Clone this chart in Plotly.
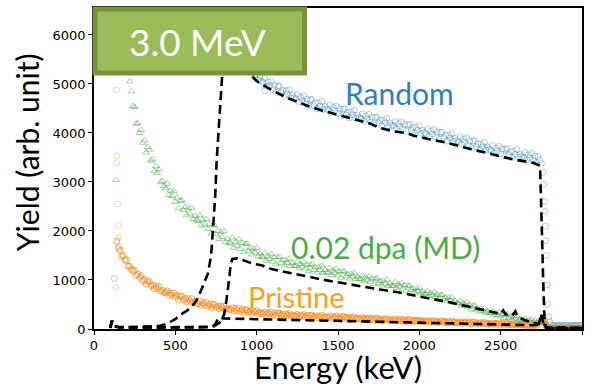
import plotly.graph_objects as go

# ---- detector channel grid, 10 keV per channel ----
energy_kev = [
    140, 150, 160, 170, 180, 190, 200, 210, 220, 230,
    240, 250, 260, 270, 280, 290, 300, 310, 320, 330,
    340, 350, 360, 370, 380, 390, 400, 410, 420, 430,
    440, 450, 460, 470, 480, 490, 500, 510, 520, 530,
    540, 550, 560, 570, 580, 590, 600, 610, 620, 630,
    640, 650, 660, 670, 680, 690, 700, 710, 720, 730,
    740, 750, 760, 770, 780, 790, 800, 810, 820, 830,
    840, 850, 860, 870, 880, 890, 900, 910, 920, 930,
    940, 950, 960, 970, 980, 990, 1000, 1010, 1020, 1030,
    1040, 1050, 1060, 1070, 1080, 1090, 1100, 1110, 1120, 1130,
    1140, 1150, 1160, 1170, 1180, 1190, 1200, 1210, 1220, 1230,
    1240, 1250, 1260, 1270, 1280, 1290, 1300, 1310, 1320, 1330,
    1340, 1350, 1360, 1370, 1380, 1390, 1400, 1410, 1420, 1430,
    1440, 1450, 1460, 1470, 1480, 1490, 1500, 1510, 1520, 1530,
    1540, 1550, 1560, 1570, 1580, 1590, 1600, 1610, 1620, 1630,
    1640, 1650, 1660, 1670, 1680, 1690, 1700, 1710, 1720, 1730,
    1740, 1750, 1760, 1770, 1780, 1790, 1800, 1810, 1820, 1830,
    1840, 1850, 1860, 1870, 1880, 1890, 1900, 1910, 1920, 1930,
    1940, 1950, 1960, 1970, 1980, 1990, 2000, 2010, 2020, 2030,
    2040, 2050, 2060, 2070, 2080, 2090, 2100, 2110, 2120, 2130,
    2140, 2150, 2160, 2170, 2180, 2190, 2200, 2210, 2220, 2230,
    2240, 2250, 2260, 2270, 2280, 2290, 2300, 2310, 2320, 2330,
    2340, 2350, 2360, 2370, 2380, 2390, 2400, 2410, 2420, 2430,
    2440, 2450, 2460, 2470, 2480, 2490, 2500, 2510, 2520, 2530,
    2540, 2550, 2560, 2570, 2580, 2590, 2600, 2610, 2620, 2630,
    2640, 2650, 2660, 2670, 2680, 2690, 2700, 2710, 2720, 2730,
    2740, 2750, 2760, 2770, 2780, 2790, 2800, 2810, 2820, 2830,
    2840, 2850, 2860, 2870, 2880, 2890, 2900, 2910, 2920, 2930,
    2940, 2950, 2960, 2970, 2980, 2990, 3000,
]

# ---- measured spectra (counts per channel) ----
_ = None
random_yield = [
    _, _, _, _, _, _, _, _, _, _,
    _, _, _, _, _, _, _, _, _, _,
    _, _, _, _, _, _, _, _, _, _,
    _, _, _, _, _, _, _, _, _, _,
    _, _, _, _, _, _, _, _, _, _,
    _, _, _, _, _, _, _, _, _, _,
    _, _, _, _, _, _, _, _, _, _,
    _, _, _, _, _, _, _, _, _, _,
    _, _, _, _, 5230, 5140, 5190, 5090, 5150, 5060,
    5030, 5110, 4950, 5040, 4970, 5050, 4890, 4974, 4828, 4952,
    4956, 4820, 4874, 4748, 4862, 4796, 4880, 4717, 4774, 4721,
    4698, 4785, 4632, 4729, 4666, 4753, 4600, 4689, 4548, 4677,
    4686, 4555, 4614, 4493, 4612, 4551, 4640, 4481, 4542, 4493,
    4474, 4565, 4416, 4517, 4458, 4549, 4400, 4491, 4352, 4483,
    4494, 4365, 4426, 4307, 4428, 4369, 4460, 4302, 4364, 4316,
    4298, 4390, 4242, 4344, 4286, 4378, 4230, 4322, 4184, 4316,
    4328, 4200, 4262, 4144, 4266, 4208, 4300, 4143, 4206, 4159,
    4142, 4235, 4088, 4191, 4134, 4227, 4080, 4172, 4034, 4166,
    4178, 4050, 4112, 3994, 4116, 4058, 4150, 3992, 4054, 4006,
    3988, 4080, 3932, 4034, 3976, 4068, 3920, 4012, 3874, 4006,
    4018, 3890, 3952, 3834, 3956, 3898, 3990, 3831, 3892, 3843,
    3824, 3915, 3766, 3867, 3808, 3899, 3750, 3841, 3702, 3833,
    3844, 3715, 3776, 3657, 3778, 3719, 3810, 3652, 3714, 3666,
    3648, 3740, 3592, 3694, 3636, 3728, 3580, 3673, 3536, 3669,
    3682, 3555, 3618, 3501, 3624, 3567, 3660, 3503, 3566, 3519,
    3502, 3595, 3448, 3551, 3494, 3587, 3440, 3530, 3390, 3520,
    3450, 3380, 3200, 2600, 1500, 500, 150, 90, 75, 70,
    72, 68, 75, 70, 66, 73, 69, 71, 67, 72,
    70, 74, 68, 71, 69, 73, 70,
]

dpa_yield = [
    _, _, _, _, _, _, _, _, 5050, 4850,
    4550, 4530, 4190, 4200, 4000, 4060, 3800, 3850, 3600, 3715,
    3660, 3435, 3460, 3230, 3320, 3180, 3260, 2995, 3020, 2915,
    2870, 2965, 2730, 2825, 2710, 2810, 2590, 2680, 2460, 2620,
    2620, 2430, 2490, 2320, 2460, 2355, 2470, 2245, 2310, 2228,
    2205, 2322, 2110, 2225, 2130, 2245, 2040, 2148, 1945, 2113,
    2120, 1935, 2000, 1835, 1980, 1875, 1990, 1770, 1840, 1762,
    1745, 1868, 1660, 1785, 1700, 1828, 1635, 1755, 1565, 1742,
    1740, 1594, 1649, 1520, 1638, 1559, 1656, 1481, 1538, 1475,
    1460, 1557, 1390, 1492, 1426, 1528, 1374, 1470, 1319, 1464,
    1470, 1350, 1406, 1298, 1407, 1344, 1434, 1287, 1342, 1293,
    1285, 1376, 1235, 1326, 1271, 1363, 1231, 1315, 1181, 1307,
    1322, 1203, 1259, 1155, 1267, 1204, 1296, 1149, 1205, 1157,
    1150, 1241, 1102, 1193, 1137, 1229, 1096, 1180, 1046, 1172,
    1176, 1074, 1121, 1030, 1126, 1071, 1148, 1021, 1068, 1025,
    1018, 1095, 974, 1051, 1002, 1078, 963, 1034, 918, 1025,
    1035, 932, 978, 888, 984, 929, 1007, 880, 928, 886,
    880, 958, 838, 915, 867, 944, 828, 897, 780, 885,
    884, 795, 830, 751, 827, 778, 838, 729, 765, 725,
    716, 777, 672, 733, 689, 749, 650, 706, 607, 692,
    698, 609, 645, 566, 642, 591, 650, 539, 573, 531,
    520, 579, 472, 531, 485, 544, 443, 497, 396, 480,
    474, 399, 424, 357, 414, 373, 420, 331, 358, 325,
    317, 364, 280, 328, 291, 339, 259, 304, 224, 293,
    298, 227, 256, 193, 254, 216, 266, 180, 210, 180,
    180, 216, 153, 189, 163, 199, 139, 172, 112, 163,
    135, 150, 170, 120, 60, 35, 28, 25, 30, 24,
    26, 23, 27, 25, 22, 26, 24, 27, 23, 25,
    24, 26, 23, 25, 27, 22, 25,
]

pristine_yield = [
    1790, 1645, 1605, 1485, 1495, 1405, 1410, 1285, 1275, 1215,
    1180, 1200, 1090, 1120, 1055, 1087, 985, 1015, 915, 975,
    965, 880, 903, 825, 875, 822, 865, 770, 793, 750,
    735, 777, 690, 735, 685, 735, 650, 690, 602, 670,
    670, 595, 625, 555, 615, 570, 622, 533, 560, 527,
    520, 565, 482, 535, 493, 547, 467, 513, 430, 505,
    502, 442, 467, 414, 465, 430, 472, 404, 428, 401,
    394, 433, 368, 411, 378, 422, 358, 397, 332, 392,
    392, 342, 365, 320, 366, 337, 375, 316, 338, 317,
    314, 349, 294, 333, 306, 345, 289, 325, 270, 323,
    324, 282, 304, 265, 305, 281, 315, 265, 284, 267,
    265, 296, 249, 283, 260, 294, 247, 278, 232, 278,
    283, 242, 265, 227, 268, 245, 280, 231, 251, 234,
    233, 265, 219, 253, 231, 266, 220, 251, 205, 251,
    251, 218, 236, 204, 237, 218, 247, 205, 221, 207,
    206, 232, 192, 221, 201, 230, 191, 216, 178, 216,
    220, 186, 204, 173, 205, 187, 215, 174, 190, 176,
    175, 202, 163, 191, 172, 201, 163, 189, 150, 189,
    189, 161, 176, 151, 177, 162, 185, 152, 164, 153,
    152, 172, 141, 164, 148, 171, 140, 161, 129, 160,
    163, 136, 150, 125, 152, 137, 160, 127, 139, 128,
    127, 148, 116, 139, 124, 147, 116, 137, 105, 136,
    139, 112, 126, 101, 128, 113, 136, 103, 115, 104,
    103, 124, 92, 115, 100, 123, 92, 112, 81, 112,
    110, 89, 100, 80, 100, 88, 105, 79, 89, 79,
    78, 94, 69, 86, 73, 91, 67, 86, 70, 109,
    135, 165, 180, 150, 90, 40, 22, 18, 20, 17,
    19, 16, 18, 20, 17, 19, 16, 18, 20, 17,
    19, 16, 18, 17, 19, 16, 18,
]

# first channels above threshold and the random surface edge (finer channels)
random_extra_e = [125, 1050, 2765, 2772, 2775, 2778, 2785, 2795]
random_extra_y = [1030, 4865, 2950, 2400, 2100, 1800, 900, 250]
dpa_extra_e = [135]
dpa_extra_y = [3040]
pristine_extra_e = [133, 139, 139, 139, 146, 150, 150, 154]
pristine_extra_y = [850, 4880, 3530, 3390, 2550, 2110, 1870, 1690]

# ---- simulated spectra ----
sim_random_e = [100, 110, 125, 150, 200, 300, 400, 450, 500, 530, 570, 600, 631, 660,
                700, 720, 733, 745, 754, 770, 785, 800, 850, 900, 950, 1000, 1100,
                1200, 1300, 1400, 1500, 1600, 1700, 1758, 1850, 1930, 1962, 2050,
                2168, 2270, 2373, 2470, 2577, 2650, 2700, 2742, 2748, 2755, 2762,
                2770, 2780, 2900, 3000]
sim_random_y = [20, 170, 60, 40, 40, 45, 60, 110, 200, 290, 370, 450, 590, 800,
                1130, 1500, 2070, 2700, 3430, 4300, 5200, 5800, 5600, 5400, 5230, 5060, 4860,
                4700, 4570, 4460, 4370, 4280, 4190, 4100, 4030, 3990, 3950, 3880,
                3800, 3710, 3630, 3540, 3460, 3420, 3390, 3330, 2800, 1800, 900,
                150, 30, 25, 25]

sim_dpa_e = [100, 110, 125, 150, 300, 500, 650, 700, 750, 780, 800, 815, 830, 840, 850,
             880, 920, 980, 1030, 1080, 1150, 1200, 1300, 1400, 1500, 1600, 1700, 1758,
             1850, 1950, 2050, 2168, 2270, 2373, 2450, 2500, 2515, 2530, 2570, 2590,
             2605, 2650, 2701, 2735, 2750, 2760, 2775, 2800, 3000]
sim_dpa_y = [20, 170, 60, 35, 30, 30, 35, 45, 80, 150, 300, 600, 1000, 1300, 1430,
             1440, 1400, 1330, 1300, 1235, 1180, 1150, 1080, 1010, 950, 890, 835, 805,
             760, 700, 630, 555, 480, 400, 340, 310, 380, 300, 270, 360,
             250, 180, 120, 110, 290, 150, 30, 20, 20]

sim_pristine_e = [100, 110, 125, 150, 400, 700, 740, 755, 765, 800, 900, 1000, 1200,
                  1500, 1758, 2000, 2200, 2476, 2600, 2700, 2735, 2745, 2755, 2765,
                  2780, 3000]
sim_pristine_y = [20, 170, 60, 35, 30, 35, 60, 150, 230, 215, 205, 200, 185,
                  165, 150, 130, 115, 95, 85, 75, 90, 220, 280, 120,
                  20, 20]

BLUE = "#1f77b4"
ORANGE = "#ff7f0e"
GREEN = "#2ca02c"

fig = go.Figure()


def add_points(x, y, color, symbol, opacity, size=6):
    fig.add_trace(go.Scatter(
        x=x, y=y, mode="markers",
        marker=dict(symbol=symbol, size=size, color=color, opacity=opacity,
                    line=dict(width=1, color=color)),
        showlegend=False, hoverinfo="skip",
    ))


add_points(energy_kev, random_yield, BLUE, "circle-open", 0.35)
add_points(random_extra_e, random_extra_y, BLUE, "circle-open", 0.35)
add_points(energy_kev, dpa_yield, GREEN, "triangle-up-open", 0.45)
add_points(dpa_extra_e, dpa_extra_y, GREEN, "triangle-up-open", 0.4)
add_points(energy_kev, pristine_yield, ORANGE, "circle-open", 0.7)
add_points(pristine_extra_e, pristine_extra_y, ORANGE, "circle-open", 0.35)

for xs, ys in [(sim_random_e, sim_random_y), (sim_dpa_e, sim_dpa_y),
               (sim_pristine_e, sim_pristine_y)]:
    fig.add_trace(go.Scatter(
        x=xs, y=ys, mode="lines",
        line=dict(color="black", width=2.6, dash="9px,5px"),
        showlegend=False, hoverinfo="skip",
    ))

axis_common = dict(
    showgrid=False, zeroline=False, showline=True, linecolor="black",
    linewidth=1.5, mirror=True, ticks="outside", ticklen=4, tickwidth=1.2,
    tickcolor="black", tickfont=dict(family="DejaVu Sans", size=13, color="black"),
)
fig.update_xaxes(range=[0, 3000], tickvals=[0, 500, 1000, 1500, 2000, 2500, 3000],
                 **axis_common)
fig.update_yaxes(range=[0, 6550], tickvals=[0, 1000, 2000, 3000, 4000, 5000, 6000],
                 **axis_common)

label_font = "Lato"
annotations = [
    dict(text="Energy (keV)", x=0.5, y=0, xref="paper", yref="paper",
         xanchor="center", yanchor="middle", yshift=-38, showarrow=False,
         font=dict(family=label_font, size=31, color="black")),
    dict(text="Yield (arb. unit)", x=0, y=0.551, xref="paper", yref="paper",
         xanchor="center", yanchor="middle", xshift=-67, textangle=-90,
         showarrow=False, font=dict(family=label_font, size=30, color="black")),
    dict(text="Random", x=1881, y=4820, xref="x", yref="y", showarrow=False,
         xanchor="center", yanchor="middle",
         font=dict(family=label_font, size=30, color="#2f7ec1")),
    dict(text="0.02 dpa (MD)", x=1792, y=1680, xref="x", yref="y", showarrow=False,
         xanchor="center", yanchor="middle",
         font=dict(family=label_font, size=30, color="#4aad48")),
    dict(text="Pristine", x=1242, y=660, xref="x", yref="y", showarrow=False,
         xanchor="center", yanchor="middle",
         font=dict(family=label_font, size=29, color="#f9a11b")),
    dict(text="3.0 MeV", x=0.2131, y=0.897, xref="paper", yref="paper",
         xanchor="center", yanchor="middle", showarrow=False,
         font=dict(family=label_font, size=37, color="white")),
]

fig.update_layout(
    width=598, height=386,
    margin=dict(l=94, r=16, t=6, b=57),
    plot_bgcolor="white", paper_bgcolor="white",
    annotations=annotations,
    shapes=[dict(type="rect", xref="paper", yref="paper",
                 x0=0.002, x1=0.4314, y0=0.7972, y1=0.9969,
                 fillcolor="#9bbb59", line=dict(color="#76923c", width=5),
                 layer="above")],
)

fig.write_html("out.html")
